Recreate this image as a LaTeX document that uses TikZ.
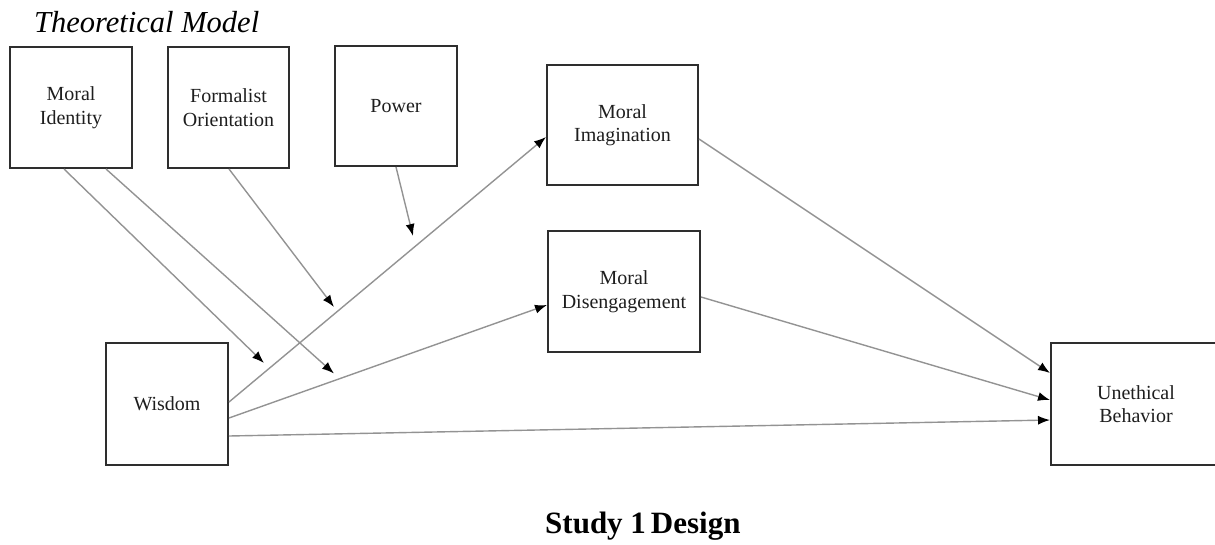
\documentclass[tikz,border=0pt]{standalone}
\usepackage{fontspec}
\setmainfont{Liberation Serif}
\usetikzlibrary{arrows.meta}
\definecolor{boxline}{HTML}{2E2E2E}
\definecolor{txt}{HTML}{1E1E1E}
\definecolor{conn}{HTML}{939393}
\tikzset{
  varbox/.style={draw=boxline, line width=2pt, fill=white, inner sep=0pt,
    align=center, text=txt, font=\fontsize{20}{23.5}\selectfont},
  link/.style={draw=conn, line width=1.4pt,
    -{Latex[length=12pt,width=9pt,color=black]}}
}
\begin{document}
\begin{tikzpicture}[x=1pt,y=-1pt]
\useasboundingbox (0,0) rectangle (1215,544);
\clip (0,0) rectangle (1215,544);
\node[anchor=base west, inner sep=0pt, text=black, font=\fontsize{30.5}{35}\selectfont\itshape] (title) at (34,32) {Theoretical Model};
\node[varbox, minimum width=122pt, minimum height=121pt] (mi) at (71,107.5) {Moral\\Identity};
\node[varbox, minimum width=121pt, minimum height=121pt] (fo) at (228.5,107.5) {Formalist\\Orientation};
\node[varbox, minimum width=122pt, minimum height=120pt] (pw) at (396,106) {Power};
\node[varbox, minimum width=151pt, minimum height=120pt] (mim) at (622.5,125) {Moral\\Imagination};
\node[varbox, minimum width=152pt, minimum height=121pt] (md) at (624,291.5) {Moral\\Disengagement};
\node[varbox, minimum width=122pt, minimum height=122pt] (wi) at (167,404) {Wisdom};
\node[varbox, minimum width=170pt, minimum height=122pt] (ub) at (1136,404) {Unethical\\Behavior};
\node[anchor=base west, inner sep=0pt, text=black, font=\fontsize{31}{36}\selectfont\bfseries] (cap) at (545,533) {Study 1\hspace{5pt}Design};
% free ends of moderator arrows
\coordinate (t1) at (264,363);
\coordinate (t2) at (334,373.5);
\coordinate (t3) at (334,307);
\coordinate (t4) at (413,236);
\draw[link] ([xshift=55pt]mi.south west) -- (t1);
\draw[link] ([xshift=97pt]mi.south west) -- (t2);
\draw[link] ([xshift=62pt]fo.south west) -- (t3);
\draw[link] ([xshift=62pt]pw.south west) -- (t4);
% paths
\draw[link] ([yshift=2pt]wi.east) -- ([yshift=-12pt]mim.west);
\draw[link] ([yshift=-14pt]wi.east) -- ([yshift=-13.5pt]md.west);
\draw[link] ([yshift=-32pt]wi.east) -- ([yshift=-16pt]ub.west);
\draw[link] ([yshift=-14pt]mim.east) -- ([yshift=31pt]ub.west);
\draw[link] ([yshift=-5.5pt]md.east) -- ([yshift=4pt]ub.west);
\end{tikzpicture}
\end{document}
